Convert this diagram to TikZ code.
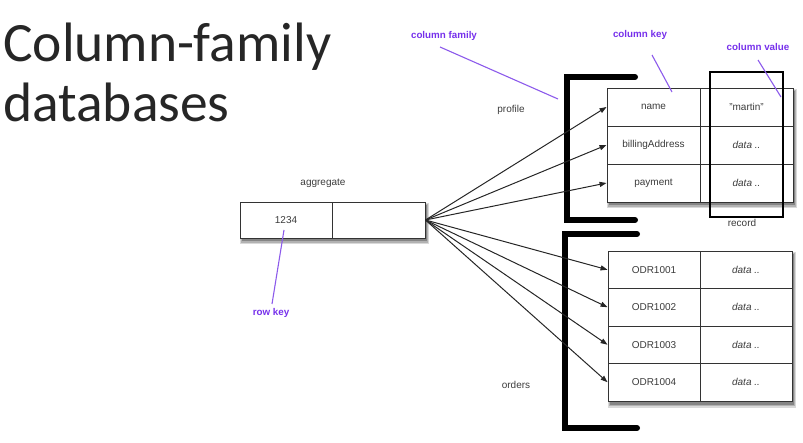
\documentclass[tikz,border=0pt]{standalone}
\usepackage{fontspec}
\setmainfont{Liberation Sans}
\newfontfamily\titlefont{Carlito}
\usetikzlibrary{arrows.meta}
\definecolor{annot}{RGB}{118,48,235}
\definecolor{annotline}{RGB}{140,90,235}
\definecolor{txt}{RGB}{60,60,60}
\tikzset{
  cell/.style={draw=black!80, line width=0.9pt, fill=white, minimum height=38pt, inner sep=0pt, font=\fontsize{10}{12}\selectfont, text=txt},
  kcell/.style={cell, minimum width=93pt},
  vcell/.style={cell, minimum width=93pt, font=\fontsize{10}{12}\selectfont\itshape},
  ocell/.style={cell, minimum height=37.5pt, minimum width=92pt},
  ovcell/.style={ocell, font=\fontsize{10}{12}\selectfont\itshape},
  lbl/.style={font=\fontsize{10}{12}\selectfont, text=txt, inner sep=0pt},
  ann/.style={font=\fontsize{9.8}{11}\selectfont\bfseries, text=annot, inner sep=0pt},
  annline/.style={draw=annotline, line width=1.1pt},
  bracket/.style={line width=6pt, line cap=round, line join=miter},
  link/.style={draw=black!85, line width=1pt, -{Triangle[length=7pt,width=5pt]}},
}
% soft drop shadow: x1 y1 x2 y2 of the table (pixel coordinates)
\newcommand{\softshadow}[4]{%
  \fill[black!15] (#1+0,#2+1.5) rectangle (#3+4,#4+6.5);
  \fill[black!30] (#1+1,#2+2.5) rectangle (#3+3,#4+5);
  \fill[black!48] (#1+2,#2+3.5) rectangle (#3+2,#4+3.5);}
\begin{document}
\begin{tikzpicture}[x=1pt,y=-1pt]
\useasboundingbox (0,0) rectangle (803,443);
% title
\node[anchor=base west, inner sep=0pt, font=\titlefont\fontsize{55.5}{60}\selectfont, text=black!85] (t1) at (3,62) {Column-family};
\node[anchor=base west, inner sep=0pt, font=\titlefont\fontsize{55.5}{60}\selectfont, text=black!85] (t2) at (3,122) {databases};

% brackets
\draw[bracket] (635,77) -- (567,77) -- (567,220) -- (635,220);
\draw[bracket] (637,234) -- (565,234) -- (565,428) -- (637,428);

% shadows
\softshadow{240}{202}{425}{238}
\softshadow{607}{88}{793}{202}
\softshadow{608}{251}{792}{401}

% aggregate
\node[cell, minimum height=36pt, minimum width=92pt] (a1) at (286,220) {1234};
\node[cell, minimum height=36pt, minimum width=93pt] (a2) at (378.5,220) {};
\node[lbl] (agg) at (323,183) {aggregate};

% profile table
\node[kcell] (p1k) at (653.5,107) {name};
\node[cell, minimum width=93pt] (p1v) at (746.5,107) {"martin"};
\node[kcell] (p2k) at (653.5,145) {billingAddress};
\node[vcell] (p2v) at (746.5,145) {data ..};
\node[kcell] (p3k) at (653.5,183) {payment};
\node[vcell] (p3v) at (746.5,183) {data ..};
\node[lbl] (prof) at (511,110) {profile};

% orders table
\node[ocell] (o1k) at (654,269.75) {ODR1001};
\node[ovcell, minimum width=92pt] (o1v) at (746,269.75) {data ..};
\node[ocell] (o2k) at (654,307.25) {ODR1002};
\node[ovcell] (o2v) at (746,307.25) {data ..};
\node[ocell] (o3k) at (654,344.75) {ODR1003};
\node[ovcell] (o3v) at (746,344.75) {data ..};
\node[ocell] (o4k) at (654,382.25) {ODR1004};
\node[ovcell] (o4v) at (746,382.25) {data ..};
\node[lbl] (ord) at (516,385) {orders};

% record box
\node[draw=black, line width=1.8pt, minimum width=73pt, minimum height=145pt, inner sep=0pt] (rec) at (746.5,144.5) {};
\node[lbl] (recl) at (742,223) {record};

% links
\foreach \t in {p1k,p2k,p3k,o1k,o2k,o3k,o4k}
  \draw[link] (a2.east) -- (\t.west);

% annotations
\node[ann] (acf) at (444,36) {column family};
\node[ann] (ack) at (640,35) {column key};
\node[ann] (acv) at (758,47) {column value};
\node[ann] (ark) at (271,313) {row key};
\coordinate (cfs) at (440,47);
\coordinate (cfe) at (558,99);
\coordinate (cks) at (652,55);
\coordinate (cke) at (672,92);
\coordinate (cvs) at (758,60);
\coordinate (cve) at (781,97);
\coordinate (rks) at (272,304);
\coordinate (rke) at (284,230);
\draw[annline] (cfs) -- (cfe);
\draw[annline] (cks) -- (cke);
\draw[annline] (cvs) -- (cve);
\draw[annline] (rks) -- (rke);
\end{tikzpicture}
\end{document}
